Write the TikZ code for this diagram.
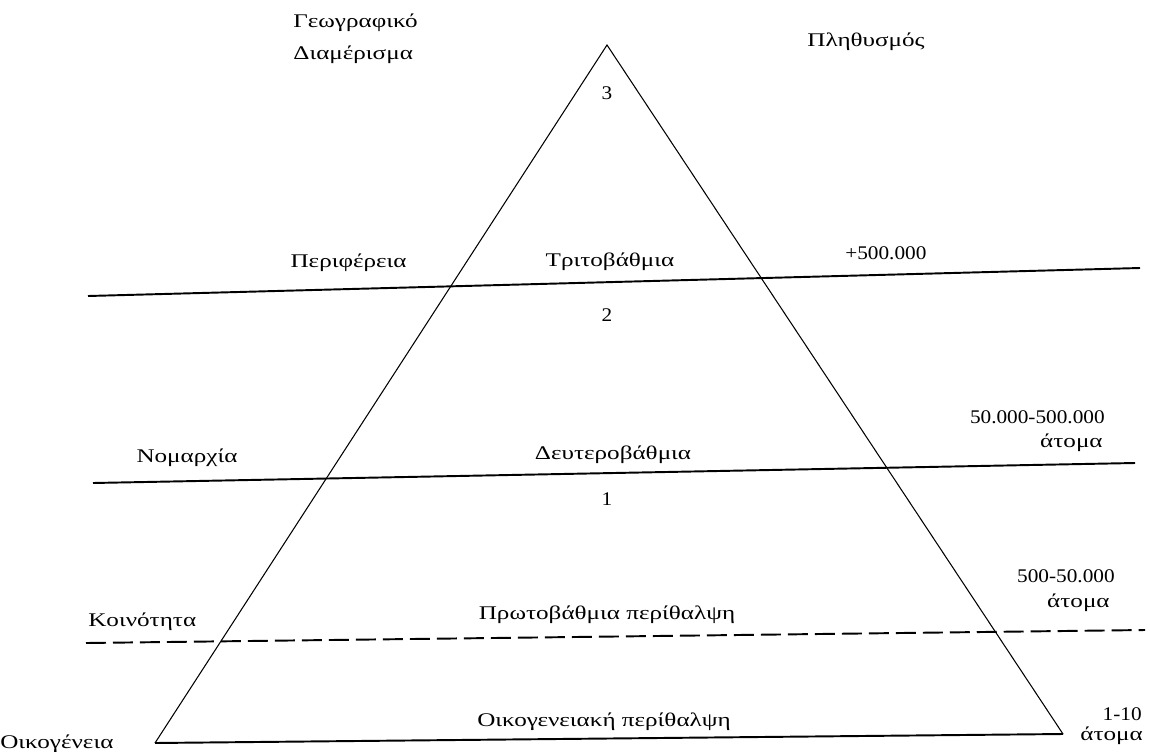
\documentclass[tikz,border=0pt]{standalone}
\usepackage{fontspec}
\setmainfont{Liberation Serif}
\newfontfamily\grkfont{Liberation Serif}[FakeStretch=1.3]
\newfontfamily\numfont{Liberation Serif}[FakeStretch=1.1]
\usetikzlibrary{positioning}

\begin{document}
\begin{tikzpicture}[x=0.02cm, y=-0.02cm,
    lbl/.style={font=\grkfont\fontsize{11}{13}\selectfont, inner sep=0pt},
    num/.style={font=\numfont\fontsize{11}{13}\selectfont, inner sep=0pt},
    side/.style={line width=0.6pt},
    level/.style={line width=1.1pt},
    dashlevel/.style={line width=1.1pt, dash pattern=on 0.4cm off 0.14cm}]

\useasboundingbox (0,0) rectangle (1150,751);

\coordinate (top) at (607,45);
\coordinate (bl) at (155,743);
\coordinate (br) at (1063,734);

\draw[side] (bl) -- (top) -- (br);
\draw[level] (bl) -- (br);

% levels
\coordinate (per1) at (88,296);
\coordinate (per2) at (1140,268);
\coordinate (nom1) at (93,483);
\coordinate (nom2) at (1135,463);
\coordinate (koi1) at (86,643);
\coordinate (koi2) at (1145,630);

\draw[level] (per1) -- (per2);
\draw[level] (nom1) -- (nom2);
\draw[dashlevel] (koi1) -- (koi2);

\foreach \n/\y in {3/93,2/315,1/499}
    \node[num] (num\n) at (607,\y) {\n};

% left column
\node[lbl, anchor=west] (geo) at (293,23) {Γεωγραφικό};
\node[lbl, anchor=west] (diam) at (293,55) {Διαμέρισμα};
\node[lbl, anchor=east] (perif) at (407,263) {Περιφέρεια};
\node[lbl] (nomar) at (187,458) {Νομαρχία};
\node[lbl, anchor=west] (koin) at (88,622) {Κοινότητα};
\node[lbl, anchor=west] (oik) at (0,744) {Οικογένεια};

% middle
\node[lbl] (trit) at (610,262) {Τριτοβάθμια};
\node[lbl] (deut) at (613,455) {Δευτεροβάθμια};
\node[lbl] (prot) at (607,615) {Πρωτοβάθμια περίθαλψη};
\node[lbl] (oikp) at (604,722) {Οικογενειακή περίθαλψη};

% right column
\node[lbl] (plith) at (866,42) {Πληθυσμός};
\node[num, anchor=west] (p500) at (845,253) {+500.000};
\node[num, anchor=east] (p50k) at (1105,417) {50.000-500.000};
\node[lbl, anchor=east] (p50ka) at (1103,443) {άτομα};
\node[num, anchor=east] (p500b) at (1115,576) {500-50.000};
\node[lbl, anchor=east] (p500ba) at (1110,603) {άτομα};
\node[num, anchor=east] (p10) at (1142,714) {1-10};
\node[lbl, anchor=west] (p10a) at (1080,736) {άτομα};

\end{tikzpicture}
\end{document}
